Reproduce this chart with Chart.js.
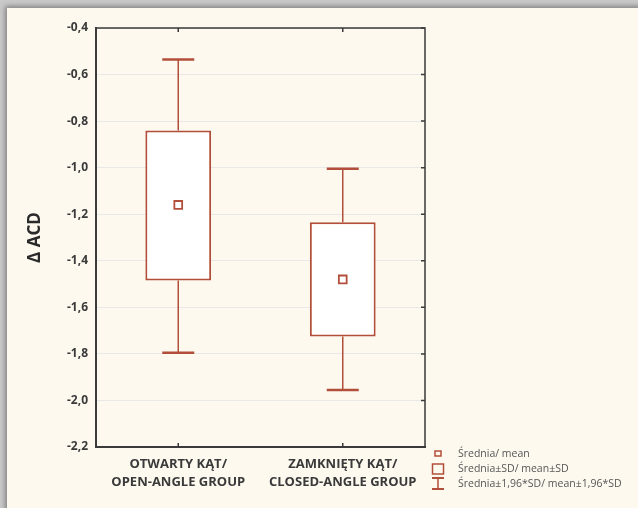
<!DOCTYPE html>
<html>
<head>
<meta charset="utf-8">
<script src="https://cdn.jsdelivr.net/npm/chart.js@4/dist/chart.umd.min.js"></script>
<style>
  html, body { margin: 0; padding: 0; }
  body { width: 638px; height: 508px; background: #c9c9c9; position: relative; overflow: hidden; }
  #frame { position: absolute; left: 7px; top: 8px; width: 640px; height: 510px; background: #fdf9ef;
           box-shadow: -2px -2px 5px rgba(0,0,0,0.35); }
  #wrap { position: absolute; left: 0; top: 0; width: 638px; height: 508px; }
</style>
</head>
<body>
<div id="frame"></div>
<div id="wrap"><canvas id="chart1" width="638" height="508"></canvas></div>
<script>
// data
var groups = [["OTWARTY KĄT/", "OPEN-ANGLE GROUP"], ["ZAMKNIĘTY KĄT/", "CLOSED-ANGLE GROUP"]];
var means = [-1.16, -1.48];
var sdLow = [-1.485, -1.725];
var sdHigh = [-0.84, -1.235];
var ciLow = [-1.795, -1.955];
var ciHigh = [-0.535, -1.005];
var legendLabels = ["Średnia/ mean", "Średnia±SD/ mean±SD", "Średnia±1,96*SD/ mean±1,96*SD"];

var red = "#b24f3a";
var axisDark = "#3a3a3a";
var fontFamily = "'Open Sans', sans-serif";

// whiskers, frame, small ticks and the legend
var boxExtras = {
    id: "boxExtras",
    afterDatasetsDraw: function(chart) {
        var ctx = chart.ctx, x = chart.scales.x, y = chart.scales.y, a = chart.chartArea;
        ctx.save();
        ctx.strokeStyle = red;
        for (var i = 0; i < groups.length; i++) {
            var cx = x.getPixelForValue(i);
            ctx.lineWidth = 1.5;
            ctx.beginPath();
            ctx.moveTo(cx, y.getPixelForValue(ciHigh[i]));
            ctx.lineTo(cx, y.getPixelForValue(sdHigh[i]));
            ctx.moveTo(cx, y.getPixelForValue(sdLow[i]));
            ctx.lineTo(cx, y.getPixelForValue(ciLow[i]));
            ctx.stroke();
            ctx.lineWidth = 2.5;
            ctx.beginPath();
            ctx.moveTo(cx - 16, y.getPixelForValue(ciHigh[i]));
            ctx.lineTo(cx + 16, y.getPixelForValue(ciHigh[i]));
            ctx.moveTo(cx - 16, y.getPixelForValue(ciLow[i]));
            ctx.lineTo(cx + 16, y.getPixelForValue(ciLow[i]));
            ctx.stroke();
        }
        // frame
        ctx.strokeStyle = axisDark;
        ctx.lineWidth = 1.5;
        ctx.beginPath();
        ctx.moveTo(a.left, a.top);
        ctx.lineTo(a.right, a.top);
        ctx.lineTo(a.right, a.bottom);
        ctx.stroke();
        // inward ticks
        ctx.beginPath();
        y.ticks.forEach(function(t) {
            var py = y.getPixelForValue(t.value);
            ctx.moveTo(a.right - 4, py);
            ctx.lineTo(a.right, py);
        });
        for (var j = 0; j < groups.length; j++) {
            var px = x.getPixelForValue(j);
            ctx.moveTo(px, a.top);
            ctx.lineTo(px, a.top + 4);
            ctx.moveTo(px, a.bottom);
            ctx.lineTo(px, a.bottom - 4);
        }
        ctx.stroke();

        // legend
        var lx = 438, ly = [454, 469, 484];
        ctx.strokeStyle = red;
        ctx.lineWidth = 1.5;
        ctx.strokeRect(lx - 3, ly[0] - 3, 6, 5);
        ctx.strokeRect(lx - 5.5, ly[1] - 5, 11, 10);
        ctx.beginPath();
        ctx.moveTo(lx, ly[2] - 6);
        ctx.lineTo(lx, ly[2] + 5);
        ctx.stroke();
        ctx.lineWidth = 2;
        ctx.beginPath();
        ctx.moveTo(lx - 6, ly[2] - 6);
        ctx.lineTo(lx + 6, ly[2] - 6);
        ctx.moveTo(lx - 6, ly[2] + 5);
        ctx.lineTo(lx + 6, ly[2] + 5);
        ctx.stroke();
        ctx.fillStyle = "#555";
        ctx.font = "10.5px " + fontFamily;
        ctx.textBaseline = "middle";
        for (var k = 0; k < legendLabels.length; k++) {
            ctx.fillText(legendLabels[k], 458, ly[k]);
        }
        ctx.restore();
    }
};

var canvas = document.getElementById("chart1").getContext("2d");

new Chart(canvas, {
    type: "bar",
    data: {
        labels: groups,
        datasets: [{
            label: "Średnia±SD",
            data: sdLow.map(function(v, i) { return [v, sdHigh[i]]; }),
            backgroundColor: "#ffffff",
            borderColor: red,
            borderWidth: 2,
            borderSkipped: false,
            barPercentage: 1,
            categoryPercentage: 0.4,
            order: 2
        }, {
            type: "line",
            label: "Średnia",
            data: means,
            showLine: false,
            pointStyle: "rect",
            pointRadius: 5.5,
            pointBorderWidth: 1.8,
            pointBackgroundColor: "#ffffff",
            pointBorderColor: red,
            order: 1
        }]
    },
    options: {
        responsive: false,
        animation: false,
        layout: { padding: { left: 0, right: 213, top: 28, bottom: 0 } },
        plugins: { legend: { display: false }, tooltip: { enabled: false } },
        scales: {
            x: {
                grid: { display: false, drawTicks: false },
                border: { color: axisDark, width: 2 },
                ticks: {
                    color: "#3a3a3a",
                    padding: 9,
                    font: { family: fontFamily, size: 13, weight: "bold", lineHeight: 1.35 },
                    maxRotation: 0
                },
                afterFit: function(s) { s.height = 61; }
            },
            y: {
                min: -2.2,
                max: -0.4,
                grid: { color: "#e8e8e8", drawTicks: false },
                border: { color: axisDark, width: 2 },
                ticks: {
                    stepSize: 0.2,
                    color: "#3a3a3a",
                    padding: 8,
                    font: { family: fontFamily, size: 12, weight: "bold" },
                    callback: function(v) { return v.toFixed(1).replace(".", ","); }
                },
                title: {
                    display: true,
                    text: "Δ ACD",
                    color: "#2a2a2a",
                    padding: { top: 25, bottom: 0 },
                    font: { family: fontFamily, size: 17, weight: "bold" }
                },
                afterFit: function(s) { s.width = 96; }
            }
        }
    },
    plugins: [boxExtras]
});
</script>
</body>
</html>
